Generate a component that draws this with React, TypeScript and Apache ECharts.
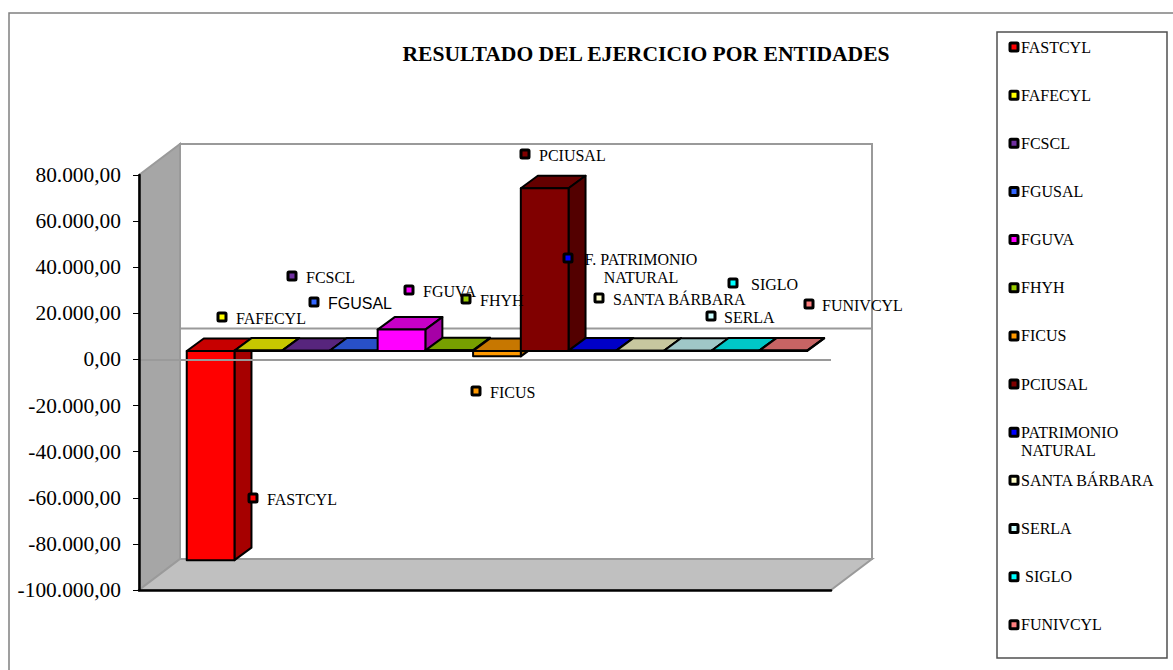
import React, { useEffect, useRef } from "react";
import * as echarts from "echarts";

const titleText = "RESULTADO DEL EJERCICIO POR ENTIDADES";
const entities = ["FASTCYL", "FAFECYL", "FCSCL", "FGUSAL", "FGUVA", "FHYH", "FICUS", "PCIUSAL", "PATRIMONIO\nNATURAL", "SANTA BÁRBARA", "SERLA", " SIGLO", "FUNIVCYL"];
const results = [-90700, 200, 150, 250, 9300, 300, -2300, 70600, 200, 150, 100, 250, 200];
const colors = ["#FF0000", "#FFFF00", "#7030A0", "#3366FF", "#FF00FF", "#99CC00", "#FF9900", "#800000", "#0000FF", "#FFFFCC", "#CCFFFF", "#00FFFF", "#FF8080"];

const dataLabels = ["FASTCYL", "FAFECYL", "FCSCL", "FGUSAL", "FGUVA", "FHYH", "FICUS", "PCIUSAL", "F. PATRIMONIO\nNATURAL", "SANTA BÁRBARA", "SERLA", "SIGLO", "FUNIVCYL"];
const labelMarkerX = [253, 222, 292, 314, 409, 466, 476, 525, 568, 599, 711, 733, 809];
const labelMarkerY = [498, 317, 276, 302, 290, 299, 391, 154, 258, 298, 316, 283, 304];
const labelTextX = [267, 236, 306, 328, 423, 480, 490, 539, 641, 613, 724, 751, 822];

const SERIF = '"Liberation Serif", "Times New Roman", serif';
const SANS = '"Liberation Sans", Arial, sans-serif';
const WALL_DX = 41;
const WALL_DY = -31;
const PLANE_DX = 11;
const PLANE_DY = -8.4;
const BAR_DX = 17;
const BAR_DY = -12.5;
const X_MIN = -1.27;
const X_MAX = 13.23;
const Y_MIN = -100000;
const Y_MAX = 80000;

function shade(hex: string, k: number) {
  const n = parseInt(hex.slice(1), 16);
  const c = (v: number) => Math.round(v * k);
  return `rgb(${c((n >> 16) & 255)},${c((n >> 8) & 255)},${c(n & 255)})`;
}

function formatTick(v: number) {
  const s = Math.abs(v).toString().replace(/\B(?=(\d{3})+$)/g, ".");
  return `${v < 0 ? "-" : ""}${s},00`;
}

function renderWalls(_: any, api: any) {
  const [x0, yBottom] = api.coord([X_MIN, Y_MIN]);
  const [x1, yTop] = api.coord([X_MAX, Y_MAX]);
  const yZero = api.coord([X_MIN, 0])[1];
  const edge = { stroke: "#9a9a9a", lineWidth: 2 };
  return {
    type: "group",
    children: [
      { type: "polygon", shape: { points: [[x0 + WALL_DX, yTop + WALL_DY], [x1 + WALL_DX, yTop + WALL_DY], [x1 + WALL_DX, yBottom + WALL_DY], [x0 + WALL_DX, yBottom + WALL_DY]] }, style: { fill: "#ffffff", ...edge } },
      { type: "polygon", shape: { points: [[x0, yTop], [x0 + WALL_DX, yTop + WALL_DY], [x0 + WALL_DX, yBottom + WALL_DY], [x0, yBottom]] }, style: { fill: "#a6a6a6", ...edge } },
      { type: "polygon", shape: { points: [[x0, yBottom], [x0 + WALL_DX, yBottom + WALL_DY], [x1 + WALL_DX, yBottom + WALL_DY], [x1, yBottom]] }, style: { fill: "#c0c0c0", ...edge } },
      { type: "line", shape: { x1: x0 + WALL_DX, y1: yZero + WALL_DY, x2: x1 + WALL_DX, y2: yZero + WALL_DY }, style: { ...edge } },
    ],
  };
}

function renderBar(params: any, api: any) {
  const i = api.value(0);
  const v = api.value(1);
  const color = colors[params.dataIndex];
  const w = api.size([1, 0])[0];
  const cx = api.coord([i, 0])[0] + PLANE_DX;
  const y0 = api.coord([i, 0])[1] + PLANE_DY;
  const yv = api.coord([i, v])[1] + PLANE_DY;
  const left = cx - w / 2;
  const right = cx + w / 2;
  const top = Math.min(y0, yv);
  const bottom = Math.max(y0, yv);
  const line = { stroke: "#000000", lineWidth: 2, lineJoin: "round" };
  return {
    type: "group",
    children: [
      { type: "polygon", shape: { points: [[left, top], [left + BAR_DX, top + BAR_DY], [right + BAR_DX, top + BAR_DY], [right, top]] }, style: { fill: shade(color, 0.78), ...line } },
      { type: "polygon", shape: { points: [[right, top], [right + BAR_DX, top + BAR_DY], [right + BAR_DX, bottom + BAR_DY], [right, bottom]] }, style: { fill: shade(color, 0.65), ...line } },
      { type: "rect", shape: { x: left, y: top, width: w, height: bottom - top }, style: { fill: color, ...line } },
    ],
  };
}

function renderZeroLine(_: any, api: any) {
  const [x0, y] = api.coord([X_MIN, 0]);
  const x1 = api.coord([X_MAX, 0])[0];
  return { type: "line", shape: { x1: x0, y1: y + 0.5, x2: x1, y2: y + 0.5 }, style: { stroke: "#9a9a9a", lineWidth: 2 } };
}

function buildGraphics() {
  const out: any[] = [
    { type: "polyline", shape: { points: [[9, 670], [9, 13], [1173, 13]] }, style: { fill: "none", stroke: "#808080", lineWidth: 1.5 } },
    { type: "rect", shape: { x: 997, y: 32, width: 170, height: 626 }, style: { fill: "#ffffff", stroke: "#505050", lineWidth: 1.5 } },
  ];
  const marker = (cx: number, cy: number, fill: string) => ({
    type: "rect",
    z: 20,
    shape: { x: cx - 4, y: cy - 4, width: 8, height: 8, r: 1 },
    style: { fill, stroke: "#000000", lineWidth: 3 },
  });
  entities.forEach((name, i) => {
    const cy = 47 + i * 48.15;
    out.push(marker(1014, cy, colors[i]));
    name.split("\n").forEach((t, j) => {
      out.push({
        type: "text",
        z: 20,
        style: { text: t, x: 1021, y: cy + j * 18, font: `16px ${SERIF}`, fill: "#000000", align: "left", verticalAlign: "middle" },
      });
    });
  });
  dataLabels.forEach((name, i) => {
    out.push(marker(labelMarkerX[i], labelMarkerY[i], colors[i]));
    const multi = name.includes("\n");
    name.split("\n").forEach((t, j) => {
      out.push({
        type: "text",
        z: 20,
        style: {
          text: t,
          x: labelTextX[i],
          y: labelMarkerY[i] + 1.5 + j * 18,
          font: `16px ${name === "FGUSAL" ? SANS : SERIF}`,
          fill: "#000000",
          align: multi ? "center" : "left",
          verticalAlign: "middle",
        },
      });
    });
  });
  return out;
}

export default function App() {
  const ref = useRef<HTMLDivElement>(null);
  useEffect(() => {
    const chart = echarts.init(ref.current!, undefined, { renderer: "svg" });
    chart.setOption({
      animation: false,
      backgroundColor: "#ffffff",
      title: {
        text: titleText,
        left: 641,
        top: 38,
        textAlign: "center",
        textStyle: { fontFamily: SERIF, fontSize: 21.6, fontWeight: "bold", color: "#000000" },
      },
      grid: { left: 139, right: 342, top: 175, bottom: 80 },
      xAxis: {
        type: "value",
        z: 6,
        min: X_MIN,
        max: X_MAX,
        axisLine: { show: true, onZero: false, lineStyle: { color: "#000000", width: 2.5 } },
        axisTick: { show: false },
        axisLabel: { show: false },
        splitLine: { show: false },
      },
      yAxis: {
        type: "value",
        z: 6,
        min: Y_MIN,
        max: Y_MAX,
        interval: 20000,
        axisLine: { show: true, onZero: false, lineStyle: { color: "#000000", width: 2.5 } },
        axisTick: { show: true, length: 6, lineStyle: { color: "#000000", width: 1 } },
        axisLabel: { margin: 18, color: "#000000", fontFamily: SERIF, fontSize: 21.4, formatter: formatTick },
        splitLine: { show: false },
      },
      graphic: buildGraphics(),
      series: [
        { type: "custom", z: 1, silent: true, renderItem: renderWalls, data: [[0, 0]] },
        { type: "custom", z: 3, renderItem: renderBar, encode: { x: 0, y: 1 }, data: results.map((v, i) => [i, v]) },
        { type: "custom", z: 4, silent: true, renderItem: renderZeroLine, data: [[0, 0]] },
      ],
    });
    return () => chart.dispose();
  }, []);
  return <div ref={ref} style={{ position: "fixed", left: 0, top: 0, width: 1173, height: 670 }} />;
}
